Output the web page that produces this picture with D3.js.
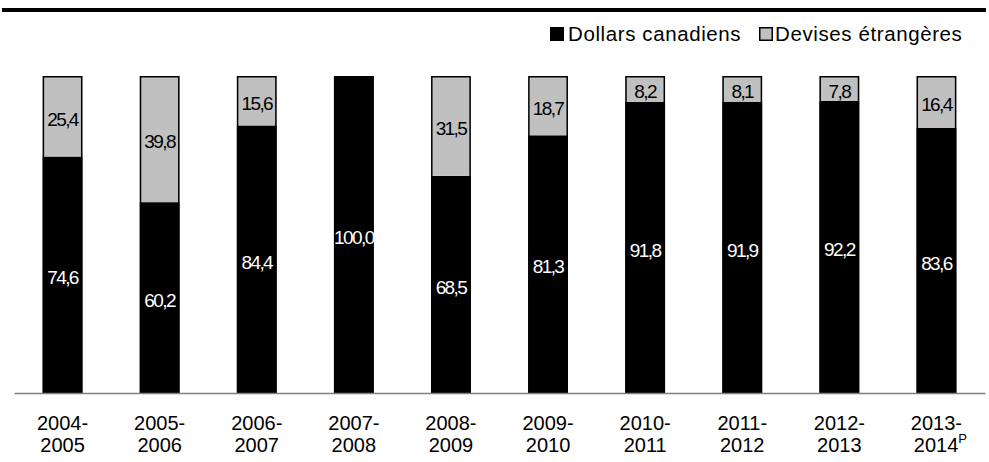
<!DOCTYPE html>
<html><head><meta charset="utf-8">
<script src="https://cdn.jsdelivr.net/npm/d3@7"></script>
<style>body{margin:0;background:#fff;}svg{display:block;}</style>
</head><body>
<svg id="c" width="989" height="462"></svg>
<script>
const categoriesLine1 = ["2004-","2005-","2006-","2007-","2008-","2009-","2010-","2011-","2012-","2013-"];
const categoriesLine2 = ["2005","2006","2007","2008","2009","2010","2011","2012","2013","2014"];
const cadValues = [74.6,60.2,84.4,100.0,68.5,81.3,91.8,91.9,92.2,83.6];
const foreignValues = [25.4,39.8,15.6,0,31.5,18.7,8.2,8.1,7.8,16.4];
const seriesNames = ["Dollars canadiens","Devises étrangères"];
const colors = ["#000000","#c0c0c0"];

const svg = d3.select("#c");
const font = "'Liberation Sans', Arial, sans-serif";

// top rule
svg.append("rect").attr("x",2).attr("y",8).attr("width",984).attr("height",4).attr("fill","#000");

const x = d3.scaleBand().domain(d3.range(categoriesLine1.length)).range([14,985]).paddingInner(0.59).paddingOuter(0.295);
const y = d3.scaleLinear().domain([0,100]).range([393,76]);

const data = cadValues.map((v,i)=>({i, cad:v, fx:foreignValues[i]}));
const stack = d3.stack().keys(["cad","fx"])(data);

stack.forEach((layer,k)=>{
  svg.append("g").selectAll("rect").data(layer).join("rect")
    .attr("x",d=>x(d.data.i)).attr("width",x.bandwidth())
    .attr("y",d=>y(d[1])).attr("height",d=>y(d[0])-y(d[1]))
    .attr("fill",colors[k]);
});
// outline of each bar
svg.append("g").selectAll("rect").data(data).join("rect")
  .attr("x",d=>x(d.i)+0.75).attr("width",x.bandwidth()-1.5)
  .attr("y",d=>y(d.cad+d.fx)+0.75).attr("height",d=>y(0)-y(d.cad+d.fx)-0.75)
  .attr("fill","none").attr("stroke","#000").attr("stroke-width",1.5);

// labels
stack.forEach((layer,k)=>{
  svg.append("g").selectAll("text").data(layer.filter(d=>d[1]-d[0]>0)).join("text")
    .attr("x",d=>x(d.data.i)+x.bandwidth()/2)
    .attr("y",d=>(y(d[0])+y(d[1]))/2+2.5)
    .attr("dy","0.36em").attr("text-anchor","middle")
    .attr("font-family",font).attr("font-size",19).attr("letter-spacing","-1.6px")
    .attr("fill",k===0?"#fff":"#000")
    .text(d=>d3.format(".1f")(d[1]-d[0]).replace(".",","));
});

// axis
const ax = svg.append("g").attr("transform","translate(0,393)").call(d3.axisBottom(x).tickSize(0).tickFormat(""));
ax.select(".domain").attr("stroke","#808080").attr("stroke-width",1.3);

const lab = svg.append("g").attr("font-family",font).attr("font-size",20).attr("fill","#000");
categoriesLine1.forEach((c,i)=>{
  const cx = x(i)+x.bandwidth()/2;
  lab.append("text").attr("x",cx).attr("y",430).attr("text-anchor","middle").text(c);
  const t = lab.append("text").attr("x",cx).attr("y",452).attr("text-anchor","middle").text(categoriesLine2[i]);
  if(i===categoriesLine1.length-1){
    t.append("tspan").attr("font-size",13).attr("dy",-9).text("P");
    t.attr("x",cx+4);
  }
});

// legend
const lg = svg.append("g").attr("font-family",font).attr("font-size",20.5).attr("letter-spacing","0.6px");
const lgItems = [{x:550,tx:568,name:seriesNames[0],c:colors[0]},{x:759,tx:775,name:seriesNames[1],c:colors[1]}];
lgItems.forEach(d=>{
  lg.append("rect").attr("x",d.x+0.75).attr("y",27.75).attr("width",12.5).attr("height",12.5).attr("fill",d.c).attr("stroke","#000").attr("stroke-width",1.5);
  lg.append("text").attr("x",d.tx).attr("y",41).text(d.name);
});
</script>
</body></html>
